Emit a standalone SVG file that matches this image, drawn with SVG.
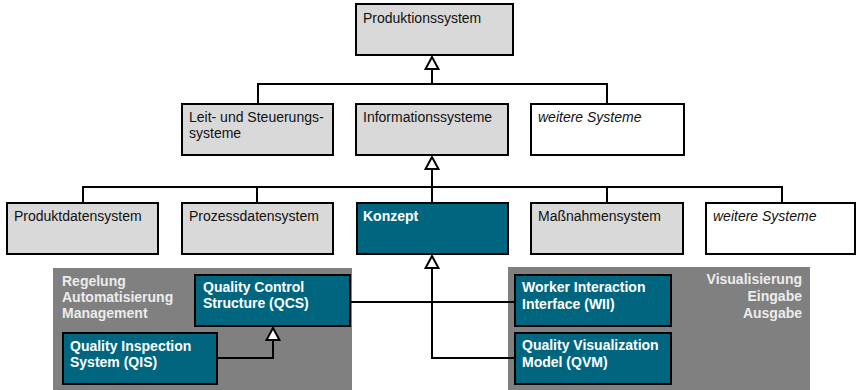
<svg xmlns="http://www.w3.org/2000/svg" width="856" height="390" viewBox="0 0 856 390">
<style>
.box{stroke:#000;stroke-width:2}
.gray{fill:#d9d9d9}
.white{fill:#fff}
.teal{fill:#00667f}
.panel{fill:#808080}
text{font-family:"Liberation Sans",Arial,sans-serif;font-size:14px;fill:#111}
.it{font-style:italic}
.b{font-weight:bold;fill:#fff}
.pt{font-weight:bold;fill:#ececec}
.con{fill:none;stroke:#000;stroke-width:2}
</style>
<defs>
<marker id="tri" viewBox="-13 -8 15 16" refX="0" refY="0" markerWidth="15" markerHeight="16" markerUnits="userSpaceOnUse" orient="auto">
<path d="M0,0 L-12,-6.5 L-12,6.5 Z" fill="#fff" stroke="#000" stroke-width="2" stroke-linejoin="miter"/>
</marker>
</defs>
<rect class="panel" x="53" y="268" width="299" height="122"/>
<rect class="panel" x="508" y="267" width="302" height="123"/>
<text class="pt" x="62" y="286">Regelung</text>
<text class="pt" x="62" y="302">Automatisierung</text>
<text class="pt" x="62" y="318">Management</text>
<text class="pt" x="802" y="284" text-anchor="end">Visualisierung</text>
<text class="pt" x="802" y="301" text-anchor="end">Eingabe</text>
<text class="pt" x="802" y="318" text-anchor="end">Ausgabe</text>
<g id="connectors">
<path class="con" d="M258,104 V84 H607 V104"/>
<path class="con" d="M432,84 V57" marker-end="url(#tri)"/>
<path class="con" d="M83,203 V187 H782 V203 M257,187 V203 M607,187 V203 M432,187 V203"/>
<path class="con" d="M432,187 V157" marker-end="url(#tri)"/>
<path class="con" d="M350,302 H515"/>
<path class="con" d="M515,358 H432 V256" marker-end="url(#tri)"/>
<path class="con" d="M217,358 H273 V328" marker-end="url(#tri)"/>
</g>
<g id="produktionssystem"><rect class="box gray" x="356" y="4" width="157" height="51"/><text x="363" y="23">Produktionssystem</text></g>
<g id="leit"><rect class="box gray" x="182" y="104" width="151" height="51"/><text x="189" y="122">Leit- und Steuerungs-</text><text x="189" y="138">systeme</text></g>
<g id="info"><rect class="box gray" x="356" y="104" width="152" height="51"/><text x="363" y="122">Informationssysteme</text></g>
<g id="weitere1"><rect class="box white" x="531" y="104" width="153" height="51"/><text class="it" x="538" y="122">weitere Systeme</text></g>
<g id="produktdaten"><rect class="box gray" x="7" y="203" width="151" height="51"/><text x="14" y="221">Produktdatensystem</text></g>
<g id="prozessdaten"><rect class="box gray" x="182" y="203" width="151" height="51"/><text x="189" y="221">Prozessdatensystem</text></g>
<g id="konzept"><rect class="box teal" x="357" y="203" width="151" height="51"/><text class="b" x="363" y="221">Konzept</text></g>
<g id="massnahmen"><rect class="box gray" x="531" y="203" width="152" height="51"/><text x="538" y="221">Maßnahmensystem</text></g>
<g id="weitere2"><rect class="box white" x="706" y="203" width="149" height="51"/><text class="it" x="713" y="221">weitere Systeme</text></g>
<g id="qcs"><rect class="box teal" x="195" y="275" width="155" height="51"/><text class="b" x="203" y="292">Quality Control</text><text class="b" x="203" y="308">Structure (QCS)</text></g>
<g id="qis"><rect class="box teal" x="63" y="333" width="154" height="51"/><text class="b" x="70" y="351">Quality Inspection</text><text class="b" x="70" y="367">System (QIS)</text></g>
<g id="wii"><rect class="box teal" x="515" y="275" width="156" height="51"/><text class="b" x="522" y="292">Worker Interaction</text><text class="b" x="522" y="309">Interface (WII)</text></g>
<g id="qvm"><rect class="box teal" x="515" y="333" width="156" height="51"/><text class="b" x="522" y="350">Quality Visualization</text><text class="b" x="522" y="367">Model (QVM)</text></g>
</svg>
